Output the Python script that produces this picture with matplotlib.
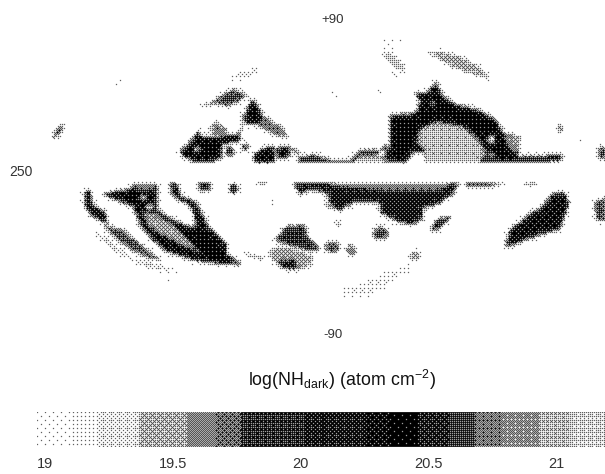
import numpy as np
import matplotlib
matplotlib.use("Agg")
import matplotlib.pyplot as plt
from matplotlib.path import Path

plt.rcParams['font.family'] = ['Liberation Sans', 'DejaVu Sans']
plt.rcParams['mathtext.fontset'] = 'custom'
plt.rcParams['mathtext.rm'] = 'Liberation Sans'

# Colour bar read-off: band edges in log(NH) and ink density of each band
bar_edges = [18.97, 19.1, 19.2, 19.37, 19.56, 19.67, 19.77, 20.03, 20.26, 20.35,
             20.46, 20.58, 20.68, 20.79, 20.93, 21.06, 21.19]
bar_ink = [.03, .07, .14, .35, .5, .6, .8, .86, .9, .97, .85, .75, .55, .45, .3, .2]
bar_ticks = [19, 19.5, 20, 20.5, 21]
bar_labels = ['19', '19.5', '20', '20.5', '21']

# Northern clouds: (ink, outline) in sky-map units
north_clouds = [
    (.8, [(132, 355), (150, 325), (168, 312), (160, 335), (145, 355)]),
    (.07, [(542, 88), (570, 68), (630, 62), (630, 66), (575, 74), (545, 90)]),
    (.14, [(580, 178), (620, 158), (670, 140), (665, 160), (640, 175), (600, 178)]),
    (.5, [(295, 198), (312, 186), (315, 188), (298, 200)]),
    (.8, [(520, 260), (560, 240), (575, 225), (605, 208), (640, 225), (625, 240), (590, 258), (560, 252)]),
    (.6, [(670, 280), (700, 300), (735, 325), (745, 355), (700, 340), (665, 315)]),
    (.98, [(655, 235), (680, 280), (675, 310), (640, 312), (628, 295), (640, 265)]),
    (.7, [(628, 305), (632, 305), (620, 345), (615, 345)]),
    (.98, [(465, 395), (490, 370), (505, 345), (510, 330), (530, 350), (570, 350), (620, 340), (625, 360),
           (575, 375), (575, 410), (555, 425), (500, 425), (475, 410)]),
    (.55, [(545, 320), (560, 305), (585, 325), (585, 345), (550, 345)]),
    (.98, [(655, 405), (680, 385), (710, 378), (712, 430), (660, 430)]),
    (.98, [(715, 385), (750, 378), (750, 410), (730, 418), (715, 405)]),
    (.6, [(745, 380), (780, 395), (770, 402), (750, 392)]),
    (.9, [(772, 410), (815, 405), (860, 420), (905, 420), (930, 392), (985, 390), (1000, 375), (1020, 400),
          (1055, 430), (772, 430)]),
    (.3, [(910, 430), (935, 405), (985, 405), (1010, 430)]),
    (.98, [(1130, 185), (1145, 225), (1175, 250), (1240, 270), (1285, 300), (1305, 340), (1350, 350),
           (1345, 395), (1340, 410), (1455, 405), (1455, 424), (1100, 430), (1100, 395), (1070, 395),
           (1050, 430), (1040, 430), (1010, 400), (1010, 285), (1075, 280), (1090, 240), (1070, 218), (1105, 218)]),
    (.28, [(1085, 330), (1130, 305), (1200, 320), (1240, 360), (1260, 400), (1240, 430), (1100, 430),
           (1105, 395), (1080, 370)]),
    (.45, [(1305, 345), (1350, 350), (1345, 395), (1320, 390)]),
    (.3, [(990, 95), (1015, 100), (1050, 140), (1050, 160), (1020, 140), (995, 115)]),
    (.06, [(985, 60), (1055, 65), (1000, 90)]),
    (.1, [(1000, 150), (1050, 170), (1020, 175)]),
    (.4, [(1105, 95), (1160, 98), (1220, 125), (1278, 178), (1230, 165), (1170, 140)]),
]
# Round knots: (ink, x, y, radius x, radius y)
north_knots = [
    (0, 510, 388, 7, 7), (.15, 530, 345, 15, 4), (.98, 595, 395, 10, 14), (.98, 635, 380, 9, 9),
    (0, 990, 400, 10, 9), (.6, 1120, 250, 10, 9), (0, 1272, 358, 9, 12), (0, 1272, 405, 7, 6),
    (.4, 985, 215, 6, 5), (.08, 865, 220, 10, 12), (.55, 1450, 325, 6, 14), (.4, 1507, 362, 4, 6),
    (.9, 1560, 398, 10, 18),
]
south_clouds = [
    (.98, [(218, 65), (232, 58), (237, 75), (240, 105), (272, 125), (280, 165), (240, 140), (222, 115)]),
    (.98, [(262, 72), (340, 55), (350, 38), (405, 38), (408, 120), (450, 150), (490, 170), (510, 165),
           (495, 110), (465, 90), (445, 75), (440, 38), (458, 38), (470, 80), (505, 92), (520, 120),
           (540, 170), (590, 225), (585, 250), (630, 285), (555, 280), (500, 270), (430, 245), (395, 210),
           (365, 170), (345, 110), (300, 90)]),
    (.38, [(370, 125), (400, 130), (450, 165), (480, 200), (520, 250), (470, 225), (410, 190), (380, 160)]),
    (.5, [(350, 38), (405, 38), (395, 60), (355, 60)]),
    (.25, [(240, 180), (270, 200), (340, 265), (470, 305), (400, 300), (320, 260), (260, 210)]),
    (.75, [(265, 165), (320, 180), (380, 240), (420, 270), (385, 265), (340, 240), (290, 195)]),
    (.1, [(420, 310), (465, 345), (460, 345), (420, 318)]),
    (.95, [(510, 38), (550, 38), (540, 62), (520, 62)]),
    (.85, [(710, 210), (740, 170), (790, 165), (795, 200), (830, 235), (810, 245), (760, 230)]),
    (.4, [(690, 250), (720, 230), (770, 240), (810, 260), (810, 285), (770, 300), (730, 295)]),
    (.98, [(715, 275), (765, 270), (770, 298), (735, 295)]),
    (.6, [(635, 250), (680, 262), (680, 268), (635, 255)]),
    (.92, [(757, 38), (1190, 38), (1175, 70), (1140, 100), (1095, 115), (1095, 150), (1065, 165), (1030, 155),
           (985, 130), (985, 100), (920, 95), (880, 120), (850, 110), (850, 70), (800, 60), (780, 75), (770, 60)]),
    (.5, [(840, 38), (1170, 38), (1140, 60), (1000, 60), (880, 50)]),
    (.95, [(1115, 180), (1130, 150), (1165, 138), (1165, 150), (1130, 180)]),
    (.9, [(1205, 38), (1320, 38), (1260, 50), (1210, 52)]),
    (.8, [(1360, 40), (1390, 40), (1390, 44), (1360, 44)]),
    (.95, [(1308, 230), (1320, 180), (1380, 125), (1405, 110), (1430, 70), (1460, 65), (1475, 100),
           (1450, 180), (1410, 190), (1370, 205), (1330, 225)]),
    (.8, [(1540, 100), (1568, 80), (1568, 155), (1545, 150)]),
    (.08, [(885, 360), (1060, 280), (1070, 295), (960, 380), (885, 378)]),
]
south_knots = [
    (0, 370, 82, 8, 8), (0, 388, 112, 9, 9), (.98, 605, 55, 11, 14), (.8, 680, 38, 12, 3),
    (.7, 860, 232, 20, 16), (.6, 910, 240, 13, 15), (.8, 985, 190, 20, 18), (.5, 1075, 257, 12, 12),
    (.5, 705, 98, 4, 4), (.4, 875, 160, 8, 8), (.35, 850, 105, 12, 8),
]

W, H = 605, 474
yy, xx = np.mgrid[0:H, 0:W]
pts = np.column_stack([xx.ravel() + .5, yy.ravel() + .5])
field = np.zeros((H, W))


def to_pixel(p, y0):
    p = np.asarray(p, float)
    return np.column_stack([p[:, 0] / 2.59, y0 + p[:, 1] / 3.0])


def paint(clouds, knots, y0):
    for ink, outline in clouds:
        mask = Path(to_pixel(outline, y0)).contains_points(pts).reshape(H, W)
        field[mask] = ink
    for ink, x, y, rx, ry in knots:
        cx, cy = x / 2.59, y0 + y / 3.0
        field[((xx + .5 - cx) / (rx / 2.59)) ** 2 + ((yy + .5 - cy) / (ry / 3.0)) ** 2 < 1] = ink


paint(north_clouds, north_knots, 20)
paint(south_clouds, south_knots, 170)


def blur(a, s):
    r = int(3 * s) + 1
    k = np.exp(-.5 * (np.arange(-r, r + 1) / s) ** 2)
    k /= k.sum()
    a = np.apply_along_axis(lambda v: np.convolve(v, k, 'same'), 0, a)
    return np.apply_along_axis(lambda v: np.convolve(v, k, 'same'), 1, a)


B4 = np.array([[0, 8, 2, 10], [12, 4, 14, 6], [3, 11, 1, 9], [15, 7, 13, 5]])
BAYER = (np.block([[4 * B4, 4 * B4 + 2], [4 * B4 + 3, 4 * B4 + 1]]) + .5) / 64


def dither(ink):
    h, w = ink.shape
    t = np.tile(BAYER, (h // 8 + 1, w // 8 + 1))[:h, :w]
    return (ink > t).astype(float)


field = .5 * blur(field, 1.1) + .5 * blur(field, 2.6)
field = np.where(field > .05, field * .95, field * .5)
field[(yy > 163) & (yy < 182)] = 0
field[:30] = 0
map_img = 1 - blur(dither(field), .5)

fig = plt.figure(figsize=(6.05, 4.74), dpi=100)
ax = fig.add_axes([0, 0, 1, 1])
ax.imshow(map_img, cmap='gray', vmin=0, vmax=1, extent=(0, W, H, 0), interpolation='nearest', aspect='auto')
ax.axis('off')
ax.set_xlim(0, W)
ax.set_ylim(H, 0)
tc = '#333333'
ax.text(333, 20, '+90', ha='center', va='center', fontsize=9.5, color=tc)
ax.text(21, 172, '250', ha='center', va='center', fontsize=10, color=tc)
ax.text(333, 335, '-90', ha='center', va='center', fontsize=9.5, color=tc)
ax.text(342, 380, r'$\mathregular{log(NH_{dark})\ (atom\ cm^{-2})}$', ha='center', va='center',
        fontsize=12.8, color='#111111')

left = 45 + (bar_edges[0] - 19) * 255
cax = fig.add_axes([left / W, 1 - 447 / H, (W - left) / W, 35 / H])
vals = bar_edges[0] + (np.arange(int(W - left)) + .5) / 255
ink = np.array(bar_ink)[np.clip(np.searchsorted(bar_edges, vals) - 1, 0, len(bar_ink) - 1)]
strip = 1 - blur(dither(np.tile(ink, (35, 1))), .5)
cax.imshow(strip, cmap='gray', vmin=0, vmax=1, aspect='auto', interpolation='nearest',
           extent=(bar_edges[0], bar_edges[-1], 0, 1))
cax.set_yticks([])
cax.set_xticks(bar_ticks)
cax.set_xticklabels(bar_labels, fontsize=10.5, color=tc)
cax.tick_params(axis='x', length=0, pad=7)
for s in cax.spines.values():
    s.set_visible(False)
fig.savefig('out.png', dpi=100)
